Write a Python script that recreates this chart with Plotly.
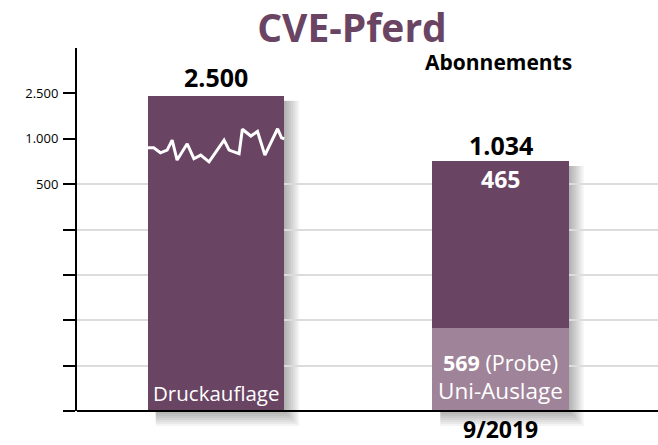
import plotly.graph_objects as go

# ---------------- data ----------------
categories = ["Druckauflage", "9/2019"]
druckauflage = 2500
uni_auslage = 569
abo_rest = 465
abo_total = 1034

# bar heights as drawn on the chart's (non-linear) grid scale
druck_height = [6.95]
uni_height = [1.83]
abo_height = [3.68]

tick_vals = [0, 1, 2, 3, 4, 5, 6, 7]
tick_text = ["", "", "", "", "", "500", "1.000", "2.500"]
grid_vals = [1, 2, 3, 4, 5]

# print-run trend drawn inside the first bar (position across bar 0..1, level on grid scale)
trend_pos = [0.0, 0.044, 0.093, 0.142, 0.179, 0.215, 0.289, 0.338, 0.388, 0.449,
             0.559, 0.596, 0.669, 0.693, 0.755, 0.804, 0.858, 0.951, 0.980, 1.0]
trend_vals = [5.80, 5.80, 5.69, 5.75, 5.97, 5.53, 5.89, 5.56, 5.64, 5.49,
              5.97, 5.75, 5.67, 6.21, 6.06, 6.16, 5.64, 6.22, 6.02, 6.00]

# ---------------- style ----------------
DARK = "#6a4463"
LIGHT = "#9f8399"
FONT = "Open Sans"
BAR_W = 0.48
PX_X = 1 / 284.5      # x units per pixel
PX_Y = 1 / 45.375     # y units per pixel
Y_BOTTOM = -18 * PX_Y

fig = go.Figure()

fig.add_trace(go.Bar(x=[0], y=druck_height, width=BAR_W, marker=dict(color=DARK, line=dict(width=0)),
                     name=categories[0], hoverinfo="skip"))
fig.add_trace(go.Bar(x=[1], y=uni_height, width=BAR_W, marker=dict(color=LIGHT, line=dict(width=0)),
                     name="Uni-Auslage", hoverinfo="skip"))
fig.add_trace(go.Bar(x=[1], y=abo_height, width=BAR_W, marker=dict(color=DARK, line=dict(width=0)),
                     name="Abonnements", hoverinfo="skip"))

fig.add_trace(go.Scatter(x=[0 - BAR_W / 2 + p * BAR_W for p in trend_pos], y=trend_vals,
                         mode="lines", line=dict(color="white", width=3), yaxis="y2",
                         hoverinfo="skip", cliponaxis=False))

# soft drop shadows (right and below) behind bars
shapes = []
bars = [(0, druck_height[0]), (1, uni_height[0] + abo_height[0])]
for c, h in bars:
    for e in range(1, 17, 2):
        shapes.append(dict(type="rect", xref="x", yref="y", layer="below",
                           x0=c - BAR_W / 2 + 8 * PX_X, x1=c + BAR_W / 2 + e * PX_X,
                           y0=-e * PX_Y, y1=h - 5 * PX_Y,
                           fillcolor="rgba(0,0,0,0.045)", line=dict(width=0)))
# baseline
shapes.append(dict(type="line", xref="paper", yref="y", x0=0, x1=1, y0=0, y1=0,
                   line=dict(color="black", width=2), layer="above"))


def ann(text, x, y, size, color, yshift=0, xshift=0, xref="x", yref="y"):
    return dict(text=text, x=x, y=y, xref=xref, yref=yref, showarrow=False,
                xanchor="center", yanchor="middle", yshift=yshift, xshift=xshift,
                font=dict(family=FONT, size=size, color=color))


abo_top = uni_height[0] + abo_height[0]
annotations = [
    ann("<b>%s</b>" % f"{druckauflage:,}".replace(",", "."), 0, druck_height[0], 25, "black", yshift=19),
    ann("<b>%s</b>" % f"{abo_total:,}".replace(",", "."), 1, abo_top, 25, "black", yshift=16),
    ann("<b>%d</b>" % abo_rest, 1, abo_top, 23, "white", yshift=-18),
    ann(categories[0], 0, 0, 20.5, "white", yshift=18),
    ann("<b>%d</b> (Probe)" % uni_auslage, 1, 0, 21.5, "white", yshift=49),
    ann("Uni-Auslage", 1, 0, 22.5, "white", yshift=21),
    ann("<b>%s</b>" % categories[1], 1, 0, 23, "black", yshift=-18),
    ann("<b>Abonnements</b>", 1, 8, 21, "black", yshift=-14, xshift=-2),
]

fig.update_layout(
    width=658, height=445,
    margin=dict(l=77, r=0, t=48, b=445 - 411 - 18, pad=0),
    paper_bgcolor="white", plot_bgcolor="rgba(0,0,0,0)",
    barmode="stack", bargap=0, showlegend=False,
    title=dict(text="<b>CVE-Pferd</b>", x=352 / 658, y=1 - 28 / 445, xanchor="center", yanchor="middle",
               font=dict(family=FONT, size=39, color=DARK)),
    xaxis=dict(range=[-0.4886, 1.5536], showgrid=False, zeroline=False, showline=False,
               showticklabels=False, ticks=""),
    yaxis=dict(range=[Y_BOTTOM, 8], tickmode="array", tickvals=grid_vals, showgrid=True,
               gridcolor="#dcdcdc", gridwidth=2, showticklabels=False, ticks="",
               zeroline=False, showline=False),
    yaxis2=dict(domain=[-Y_BOTTOM / (8 - Y_BOTTOM), 1], anchor="x", range=[0, 8],
                tickmode="array", tickvals=tick_vals, ticktext=tick_text,
                ticks="outside", ticklen=12, tickwidth=2, tickcolor="black",
                showline=True, linecolor="black", linewidth=2,
                showgrid=False, zeroline=False, ticklabelstandoff=2,
                tickfont=dict(family=FONT, size=13, color="black")),
    shapes=shapes,
    annotations=annotations,
    font=dict(family=FONT),
)

fig.write_html("out.html", config={"displayModeBar": False},
               post_script="document.body.style.margin='0';")
